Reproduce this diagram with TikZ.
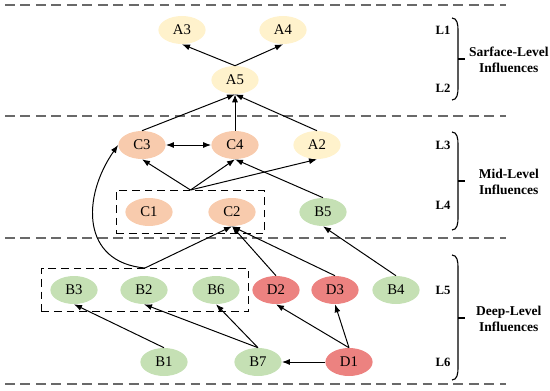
\documentclass[tikz,border=0pt]{standalone}
\usepackage{fontspec}
\setmainfont{Liberation Serif}
\definecolor{fYellow}{RGB}{255, 242, 204}
\definecolor{fOrange}{RGB}{248, 203, 173}
\definecolor{fGreen}{RGB}{197, 224, 180}
\definecolor{fRed}{RGB}{236, 130, 128}
\definecolor{fGray}{RGB}{105, 105, 105}
\usetikzlibrary{shapes.geometric, arrows.meta, positioning, fit}
\tikzset{
  factor/.style={ellipse, fill=#1, minimum width=1.18cm, minimum height=0.7cm, inner sep=0pt, font=\fontsize{10.5}{12}\selectfont},
  factor/.default=fYellow,
  groupbox/.style={rectangle, draw=black, line width=0.75pt, dash pattern=on 5.5pt off 3.5pt, inner xsep=0.22cm, inner ysep=0.18cm},
  myarrow/.style={-{Latex[length=2mm, width=1.5mm]}, line width=0.7pt, black},
  twoarrow/.style={{Latex[length=2mm, width=1.5mm]}-{Latex[length=2mm, width=1.5mm]}, line width=0.7pt, black},
  levelline/.style={draw=fGray, line width=1.1pt, dash pattern=on 7pt off 4pt},
  bracepath/.style={line width=0.8pt, black},
  levellabel/.style={font=\fontsize{9}{10.5}\selectfont\bfseries},
  levelname/.style={font=\fontsize{9.6}{11}\selectfont\bfseries, align=center},
}
\begin{document}
\begin{tikzpicture}
  \useasboundingbox (0, 0) rectangle (13.75, 9.75);

  % Level separators
  \draw[levelline] (0.125, 9.625) -- (12.65, 9.625);
  \draw[levelline] (0.125, 6.85) -- (12.65, 6.85);
  \draw[levelline] (0.125, 3.8) -- (12.65, 3.8);
  \draw[levelline] (0.125, 0.15) -- (12.65, 0.15);

  % Surface level
  \node[factor=fYellow] (a3) at (4.55, 9.0) {A3};
  \node[factor=fYellow] (a4) at (7.075, 9.0) {A4};
  \node[factor=fYellow] (a5) at (5.875, 7.75) {A5};

  % Mid level
  \node[factor=fOrange] (c3) at (3.55, 6.125) {C3};
  \node[factor=fOrange] (c4) at (5.875, 6.125) {C4};
  \node[factor=fYellow] (a2) at (7.925, 6.125) {A2};
  \node[factor=fOrange] (c1) at (3.725, 4.45) {C1};
  \node[factor=fOrange] (c2) at (5.8, 4.45) {C2};
  \node[factor=fGreen] (b5) at (8.075, 4.45) {B5};

  % Deep level
  \node[factor=fGreen] (b3) at (1.85, 2.5) {B3};
  \node[factor=fGreen] (b2) at (3.6, 2.5) {B2};
  \node[factor=fGreen] (b6) at (5.4, 2.5) {B6};
  \node[factor=fRed] (d2) at (6.9, 2.5) {D2};
  \node[factor=fRed] (d3) at (8.375, 2.5) {D3};
  \node[factor=fGreen] (b4) at (9.9, 2.5) {B4};
  \node[factor=fGreen] (b1) at (4.1, 0.7) {B1};
  \node[factor=fGreen] (b7) at (6.45, 0.7) {B7};
  \node[factor=fRed] (d1) at (8.725, 0.7) {D1};

  % Groups
  \node[groupbox, fit=(c1)(c2)] (cbox) {};
  \node[groupbox, fit=(b3)(b6)] (bbox) {};

  % Level labels
  \node[levellabel] (l1) at (11.075, 9.0) {L1};
  \node[levellabel] (l2) at (11.075, 7.55) {L2};
  \node[levellabel] (l3) at (11.075, 6.125) {L3};
  \node[levellabel] (l4) at (11.075, 4.625) {L4};
  \node[levellabel] (l5) at (11.075, 2.5) {L5};
  \node[levellabel] (l6) at (11.075, 0.7) {L6};

  % Braces
  \draw[bracepath] (11.30, 9.30) to[out=0, in=90] (11.45, 9.0) -- (11.45, 7.55) to[out=-90, in=0] (11.30, 7.25);
  \draw[bracepath] (11.45, 8.275) -- (11.63, 8.275);
  \draw[bracepath] (11.30, 6.45) to[out=0, in=90] (11.45, 6.15) -- (11.45, 4.3) to[out=-90, in=0] (11.30, 4.0);
  \draw[bracepath] (11.45, 5.225) -- (11.63, 5.225);
  \draw[bracepath] (11.30, 3.375) to[out=0, in=90] (11.45, 3.075) -- (11.45, 0.55) to[out=-90, in=0] (11.30, 0.25);
  \draw[bracepath] (11.45, 1.8) -- (11.63, 1.8);

  \node[levelname] (surf) at (12.72, 8.25) {Sarface-Level\\Influences};
  \node[levelname] (mid) at (12.72, 5.2) {Mid-Level\\Influences};
  \node[levelname] (deep) at (12.72, 1.775) {Deep-Level\\Influences};

  % Arrows
  \draw[myarrow] (a5.north) -- (a3.south);
  \draw[myarrow] (a5.north) -- (a4.south);
  \draw[myarrow] (c3.north) -- (a5.south);
  \draw[myarrow] (c4.north) -- (a5.south);
  \draw[myarrow] (a2.north) -- (a5.south);
  \draw[twoarrow] (c3) -- (c4);
  \draw[myarrow] (cbox.north) -- (c3.south);
  \draw[myarrow] (cbox.north) -- (c4.south);
  \draw[myarrow] (cbox.north) -- (a2.south);
  \draw[myarrow] (b5.north) -- (c4.south);
  \draw[myarrow] (bbox.north) -- (c2.south);
  \draw[myarrow] (bbox.north) to[out=175, in=235, looseness=1.3] (c3.west);
  \draw[myarrow] (d2.north) -- (c2.south);
  \draw[myarrow] (d3.north) -- (c2.south);
  \draw[myarrow] (b4.north) -- (b5.south);
  \draw[myarrow] (b1.north) -- (b3.south);
  \draw[myarrow] (b7.north) -- (b2.south);
  \draw[myarrow] (b7.north) -- (b6.south);
  \draw[myarrow] (d1.north) -- (d2.south);
  \draw[myarrow] (d1.north) -- (d3.south);
  \draw[myarrow] (d1) -- (b7);
\end{tikzpicture}
\end{document}
